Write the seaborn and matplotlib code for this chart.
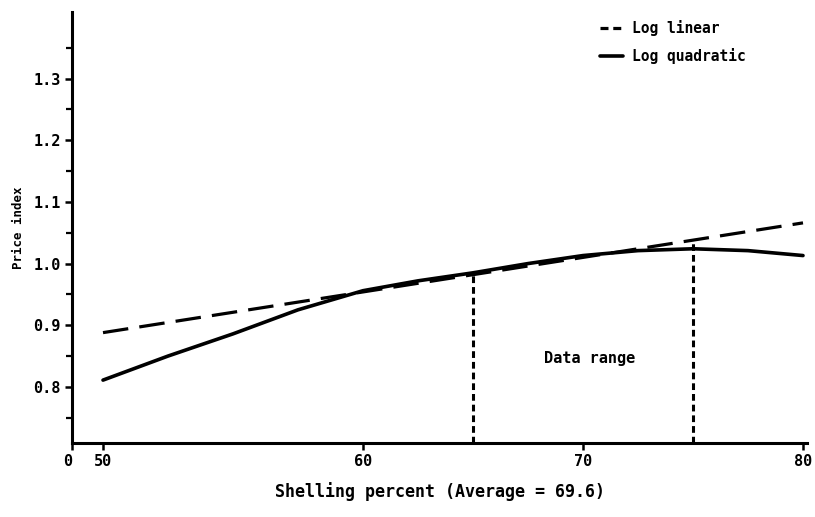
import numpy as np
import pandas as pd
import matplotlib
matplotlib.use("Agg")
import matplotlib.pyplot as plt
import seaborn as sns

# --- values ---
shelling = [50, 52.5, 55, 57.5, 60, 62.5, 65, 67.5, 70, 72.5, 75, 77.5, 80]
log_quadratic = [0.811, 0.850, 0.886, 0.925, 0.956, 0.972, 0.985,
                 1.000, 1.013, 1.021, 1.024, 1.021, 1.013]
linear_x = [50, 55, 60, 65, 70, 75, 80]
log_linear = [0.888, 0.921, 0.954, 0.982, 1.010, 1.038, 1.066]

data_range_x = [65, 75]
data_range_top = [0.985, 1.038]

x_ticks = [0, 50, 60, 70, 80]
x_tick_labels = ["0", "50", "60", "70", "80"]
y_ticks = [0.8, 0.9, 1.0, 1.1, 1.2, 1.3]
y_tick_labels = ["0.8", "0.9", "1.0", "1.1", "1.2", "1.3"]
y_minor = [0.75, 0.85, 0.95, 1.05, 1.15, 1.25, 1.35]

# the original axis is broken between 0 and 50, and 50-60 is drawn wider
# than 60-80, so use a piecewise-linear function scale
_xd = np.array([-100.0, 0.0, 50.0, 60.0, 200.0])
_xp = np.array([72 - 62.0, 72.0, 103.0, 363.0, 363.0 + 140 * 22.0])


def fwd(x):
    return np.interp(x, _xd, _xp)


def inv(x):
    return np.interp(x, _xp, _xd)


sns.set_style("ticks")
plt.rcParams["font.family"] = ["DejaVu Sans Mono", "DejaVu Sans"]
plt.rcParams["font.weight"] = "bold"
for key in ["text.color", "axes.labelcolor", "xtick.color", "ytick.color",
            "axes.edgecolor"]:
    plt.rcParams[key] = "black"

quad_df = pd.DataFrame({"x": shelling, "y": log_quadratic})
lin_df = pd.DataFrame({"x": linear_x, "y": log_linear})

fig = plt.figure(figsize=(8.15, 5.17), dpi=100)
ax = fig.add_axes([72 / 815, 74 / 517, (807.4 - 72) / 815, 431 / 517])

sns.lineplot(data=lin_df, x="x", y="y", ax=ax, color="black", lw=2.3,
             label="Log linear")
sns.lineplot(data=quad_df, x="x", y="y", ax=ax, color="black", lw=2.6,
             label="Log quadratic")
ax.lines[0].set_dashes((8, 3.5))

# data range markers
ax.vlines(data_range_x, 0.709, data_range_top, colors="black", lw=2.2,
          linestyles=(0, (2.2, 1.3)))
ax.text(70.3, 0.846, "Data range", ha="center", va="center", fontsize=11,
        fontweight="bold")

ax.set_xscale("function", functions=(fwd, inv))
ax.set_xlim(0, 80.2)
ax.set_ylim(0.709, 1.408)

ax.set_xticks(x_ticks)
ax.set_xticklabels(x_tick_labels)
ax.set_yticks(y_ticks)
ax.set_yticklabels(y_tick_labels)
ax.set_yticks(y_minor, minor=True)
ax.xaxis.set_minor_locator(matplotlib.ticker.NullLocator())

ax.tick_params(axis="both", which="major", direction="out", length=5,
               width=1.8, labelsize=11, pad=3)
ax.tick_params(axis="y", which="minor", direction="out", length=4, width=1.6)
# the "0" sits a bit left of the origin in the scan
ax.get_xticklabels()[0].set_horizontalalignment("right")

ax.set_xlabel("Shelling percent (Average = 69.6)", fontsize=12,
              fontweight="bold", labelpad=9)
ax.set_ylabel("Price index", fontsize=9, fontweight="bold", labelpad=6)

sns.despine(ax=ax)
for side in ["left", "bottom"]:
    ax.spines[side].set_linewidth(2.2)

leg = ax.legend(loc="upper left", bbox_to_anchor=(600 / 815, 1 - 20 / 517),
                bbox_transform=fig.transFigure, frameon=False, fontsize=10.5,
                handlelength=1.6, handletextpad=0.6, labelspacing=0.8,
                borderpad=0, borderaxespad=0)
leg.get_lines()[0].set_dashes((2.5, 1.5))

fig.savefig("out.png", dpi=100)
